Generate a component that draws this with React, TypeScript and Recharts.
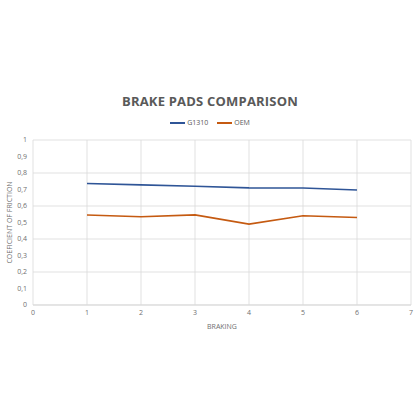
import { LineChart, Line, XAxis, YAxis, CartesianGrid, Label } from 'recharts';

const brakings = [1, 2, 3, 4, 5, 6];
const g1310 = [0.736, 0.728, 0.72, 0.71, 0.709, 0.697];
const oem = [0.545, 0.535, 0.546, 0.49, 0.541, 0.53];
const xTicks = [0, 1, 2, 3, 4, 5, 6, 7];
const yTicks = [0, 0.1, 0.2, 0.3, 0.4, 0.5, 0.6, 0.7, 0.8, 0.9, 1];

const data = brakings.map((b, i) => ({ braking: b, g1310: g1310[i], oem: oem[i] }));

const FONT = '"Open Sans", "Noto Sans", sans-serif';
const GREY = '#595959';
const BLUE = '#2f5597';
const ORANGE = '#c55a11';

const fmt = (v: number) => String(Math.round(v * 10) / 10).replace('.', ',');

export default function App() {
  return (
    <div style={{ position: 'absolute', left: 0, top: 0, width: 420, height: 420, background: '#fff', fontFamily: FONT }}>
      <div
        style={{
          position: 'absolute',
          top: 92,
          width: 420,
          textAlign: 'center',
          fontSize: 13,
          fontWeight: 700,
          letterSpacing: 0.2,
          color: GREY,
        }}
      >
        BRAKE PADS COMPARISON
      </div>
      <div
        style={{
          position: 'absolute',
          top: 118,
          width: 420,
          display: 'flex',
          justifyContent: 'center',
          gap: 9,
          fontSize: 7,
          color: GREY,
        }}
      >
        <span style={{ display: 'flex', alignItems: 'center', gap: 2 }}>
          <span style={{ width: 15, height: 2, background: BLUE, display: 'inline-block' }} />
          G1310
        </span>
        <span style={{ display: 'flex', alignItems: 'center', gap: 2 }}>
          <span style={{ width: 15, height: 2, background: ORANGE, display: 'inline-block' }} />
          OEM
        </span>
      </div>
      <LineChart width={420} height={420} data={data} margin={{ top: 140, right: 9, bottom: 0, left: 0 }}>
        <CartesianGrid stroke="#d9d9d9" strokeWidth={0.8} />
        <XAxis
          dataKey="braking"
          type="number"
          domain={[0, 7]}
          ticks={xTicks}
          height={115}
          tickLine={false}
          tickSize={3}
          axisLine={{ stroke: '#d9d9d9' }}
          tick={{ fontSize: 7, fill: '#6f6f6f', fontFamily: FONT }}
        >
          <Label value="BRAKING" position="insideTop" offset={19} style={{ fontSize: 7, fill: '#6f6f6f', fontFamily: FONT }} />
        </XAxis>
        <YAxis
          type="number"
          domain={[0, 1]}
          ticks={yTicks}
          width={33}
          tickLine={false}
          tickSize={4}
          axisLine={false}
          tickFormatter={fmt}
          tick={{ fontSize: 7, fill: '#6f6f6f', fontFamily: FONT }}
        >
          <Label
            value="COEFICIENT OF FRICTION"
            angle={-90}
            position="insideLeft"
            offset={10}
            style={{ fontSize: 7, fill: '#6f6f6f', fontFamily: FONT, textAnchor: 'middle' }}
          />
        </YAxis>
        <Line type="linear" dataKey="g1310" stroke={BLUE} strokeWidth={1.6} dot={false} isAnimationActive={false} />
        <Line type="linear" dataKey="oem" stroke={ORANGE} strokeWidth={1.6} dot={false} isAnimationActive={false} />
      </LineChart>
    </div>
  );
}
